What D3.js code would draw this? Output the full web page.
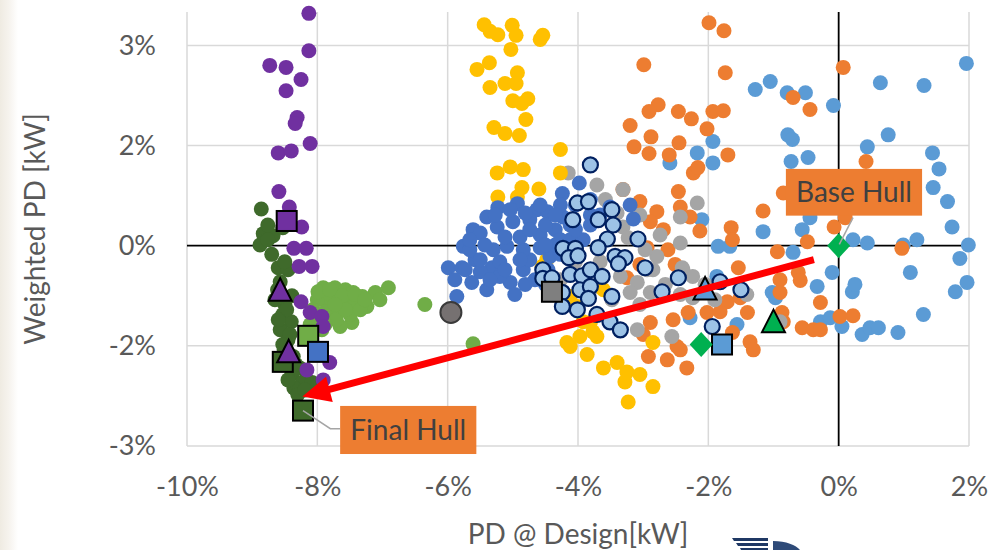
<!DOCTYPE html>
<html>
<head>
<meta charset="utf-8">
<script src="https://cdn.jsdelivr.net/npm/d3@7"></script>
<style>
  html, body { margin: 0; padding: 0; background: #ffffff; }
  svg { display: block; }
  text { font-family: Lato, "Open Sans", sans-serif; }
</style>
</head>
<body>
<svg id="chart" width="1001" height="550"></svg>
<script>
// ---------------- DATA ----------------
const xTicks = [-10, -8, -6, -4, -2, 0, 2];
const xTickLabels = ["-10%", "-8%", "-6%", "-4%", "-2%", "0%", "2%"];
const yTicks = [-3, -1.5, 0, 1.5, 3];
const yTickLabels = ["-3%", "-2%", "0%", "2%", "3%"];
const xTitle = "PD @ Design[kW]";
const yTitle = "Weighted PD [kW]";

const skyBlue = [[1.96,2.73],[0.64,2.44],[1.31,2.40],[-1.28,2.34],[-1.05,2.46],[-0.79,2.29],[-0.51,2.29],[-0.08,2.10],
  [0.76,1.66],[-0.78,1.66],[-0.71,1.59],[0.44,1.48],[1.44,1.39],[1.54,1.15],[-0.73,1.26],[-0.47,1.32],[1.45,0.87],
  [1.67,0.66],[1.74,0.28],[1.99,0.01],[1.86,-0.19],[0.22,0.09],[0.44,0.04],[0.99,0.01],[1.20,0.09],[-1.93,1.56],
  [-2.17,1.39],[-2.59,1.24],[-1.93,1.24],[-1.16,0.21],[-1.85,-0.01],[-1.67,-0.01],[-0.70,-0.10],[-0.56,0.24],
  [-0.44,0.42],[-0.10,-0.40],[1.10,-0.40],[-2.10,0.39],[0.21,-0.69],[0.25,-0.58],[1.79,-0.69],[1.97,-0.55],
  [1.30,-1.03],[-0.33,-0.61],[-0.28,-1.14],[-0.13,-1.08],[0.05,-1.21],[0.36,-1.33],[0.48,-1.23],[0.61,-1.23],
  [0.91,-1.30],[-1.02,-0.70],[-0.97,-0.78],[-1.56,-1.18],[-2.28,-1.08],[-1.87,-0.46]];

const orange = [[-1.99,3.34],[-1.76,3.22],[-1.74,2.59],[0.07,2.67],[-0.70,2.22],[-0.44,2.04],[-2.99,2.71],[-2.77,2.11],
  [-2.91,2.01],[-2.46,2.01],[-2.26,1.90],[-1.93,2.01],[-1.77,2.02],[-2.02,1.75],[-3.20,1.80],[-2.88,1.63],[-2.45,1.54],
  [-3.14,1.48],[-2.91,1.38],[-2.60,1.36],[-1.70,1.36],[-2.23,1.09],[-2.16,1.17],[0.42,1.26],[-2.46,0.81],[-0.85,0.79],
  [-1.16,0.52],[-2.43,0.58],[-2.28,0.43],[-3.31,0.84],[-3.05,0.66],[-2.79,0.51],[-2.89,0.36],[-2.69,0.24],[-2.13,0.22],
  [-1.65,0.27],[-1.63,0.09],[-0.07,0.28],[0.10,0.42],[-0.48,0.06],[-0.94,-0.09],[0.97,-0.04],[-2.94,-0.03],[-2.62,-0.06],
  [-1.54,-0.33],[-0.62,-0.40],[-3.05,-0.28],[-2.51,-0.28],[-3.25,-0.48],[-0.90,-0.51],[-0.59,-0.52],[-0.90,-0.70],
  [-0.28,-0.85],[-1.71,-0.84],[-1.51,-0.78],[-2.31,-1.00],[-2.02,-1.00],[-1.82,-0.99],[-1.40,-1.00],[-2.54,-1.11],
  [-2.89,-1.15],[-3.00,-1.33],[-2.48,-1.51],[-1.36,-1.44],[-1.31,-1.56],[-0.56,-1.23],[-0.39,-1.26],[-0.28,-1.26],
  [0.02,-1.06],[0.22,-1.05],[-0.87,-1.00],[-0.85,-1.14],[-1.63,-1.30],[-2.43,-1.56],[-2.63,-1.71],[-2.33,-1.83],[-2.92,-1.66]];

const gray = [[-4.15,1.09],[-3.71,0.91],[-3.31,0.84],[-3.40,0.49],[-3.31,0.28],[-3.23,0.12],[-2.43,0.43],[-2.17,0.64],
  [-2.74,0.16],[-2.79,-0.16],[-2.43,0.04],[-2.94,-0.36],[-3.09,-0.55],[-3.20,-0.70],[-2.89,-0.70],[-2.39,-0.36],
  [-2.24,-0.46],[-2.56,-1.36],[-3.09,-1.26],[-3.35,-0.46],[-2.85,-0.36],[-2.40,-0.33],[-2.24,-0.78],[-2.43,-0.73],
  [-1.41,-0.73],[-0.90,-1.14],[-3.54,0.09],[-3.66,-0.24],[-3.48,-0.81],[-3.05,-0.88],[-2.66,-0.58],[-2.05,-0.58],
  [-1.90,-0.81],[-3.81,-0.66],[-2.97,-0.06],[-3.58,0.69],[-3.05,0.46],[-4.27,-0.51],[-4.04,-0.24]];

const yellow = [[-5.44,3.31],[-5.35,3.21],[-5.23,3.16],[-5.01,3.30],[-4.95,3.15],[-4.54,3.15],[-4.58,3.09],[-5.03,2.94],
  [-5.36,2.74],[-5.55,2.64],[-4.93,2.59],[-5.35,2.37],[-5.12,2.43],[-4.95,2.43],[-5.00,2.17],[-4.86,2.13],[-4.77,2.20],
  [-4.80,1.89],[-5.29,1.77],[-5.12,1.68],[-4.90,1.65],[-4.27,1.44],[-5.24,1.09],[-5.04,1.18],[-4.84,1.14],[-4.86,0.87],
  [-4.60,0.85],[-4.27,1.09],[-5.23,0.73],[-4.93,0.73],[-4.48,-0.21],[-4.55,-0.31],[-4.12,-0.76],[-4.01,-0.91],
  [-3.61,-0.66],[-3.81,-1.15],[-3.97,-1.36],[-4.17,-1.45],[-3.71,-1.36],[-4.12,-1.51],[-3.86,-1.63],[-3.77,-1.29],
  [-3.92,-1.14],[-3.61,-1.83],[-3.40,-1.75],[-3.25,-1.89],[-3.05,-1.93],[-3.28,-2.04],[-2.85,-2.11],[-3.23,-2.34],[-2.85,-1.45]];

const blue = [[-3.98,0.94],[-4.24,0.78],[-3.51,0.58],[-3.20,0.61],[-3.15,0.40],[-5.23,0.57],[-4.93,0.63],[-4.63,0.54],
  [-4.47,0.51],[-5.40,0.43],[-5.61,0.24],[-5.76,-0.01],[-5.99,-0.33],[-5.78,-0.33],[-5.63,-0.55],[-5.40,-0.66],
  [-5.04,-0.55],[-5.86,-0.76],[-5.32,-0.33],[-4.84,-0.36],[-4.74,-0.21],[-4.43,-0.16],[-3.92,0.09],[-5.50,0.19],
  [-5.24,0.28],[-5.00,0.36],[-4.74,0.39],[-4.23,0.43],[-5.09,-0.01],[-4.84,-0.06],[-5.30,-0.06],[-4.58,0.16],
  [-4.35,0.24],[-4.12,0.31],[-5.12,0.13],[-4.89,0.13],[-5.43,0.01],[-5.58,-0.21],[-5.20,-0.24],[-4.58,-0.03],
  [-4.35,0.01],[-4.12,0.09],[-3.81,0.31],[-3.66,0.46],[-4.46,-0.36],[-4.66,-0.51],[-5.20,-0.46],[-4.97,-0.73],
  [-5.50,-0.39],[-4.50,0.31],[-4.81,0.49],[-4.27,0.61],[-3.81,0.69],[-4.04,0.61],[-5.66,-0.06],[-5.27,0.46],[-5.89,-0.51],
  [-5.04,0.54],[-4.74,0.24],[-4.50,0.01],[-4.27,0.09],[-4.89,-0.21],[-5.12,-0.36],[-5.35,-0.51],[-5.73,-0.36],
  [-5.50,-0.21],[-4.27,-0.13],[-4.04,0.24],[-4.35,0.46],[-3.81,0.46],[-4.58,0.61],[-5.66,0.09],[-4.81,-0.58],[-4.50,-0.58]];

const lightGreen = [[-7.91,-0.63],[-7.73,-0.63],[-7.57,-0.66],[-7.45,-0.70],[-7.31,-0.76],[-7.11,-0.70],[-6.91,-0.63],
  [-7.24,-0.91],[-7.47,-1.15],[-7.65,-0.96],[-7.85,-0.85],[-8.00,-0.81],[-8.07,-0.96],[-7.81,-1.06],[-7.65,-1.21],
  [-7.96,-1.11],[-7.81,-0.73],[-7.57,-0.81],[-7.42,-0.88],[-7.88,-0.99],[-7.99,-0.69],[-7.50,-1.03],[-7.71,-1.11],
  [-7.62,-0.75],[-7.34,-0.96],[-7.93,-1.26],[-8.11,-1.18],[-6.35,-0.88],[-5.61,-1.47],
  [-7.81,-0.66],[-7.57,-0.96],[-7.42,-0.73],[-7.73,-0.88],[-7.88,-1.18],[-8.03,-1.03],[-7.27,-0.81],[-7.04,-0.81]];

const darkGreen = [[-8.86,0.55],[-8.83,0.18],[-8.68,0.15],[-8.88,0.01],[-8.53,0.27],[-8.76,0.31],[-8.60,-0.33],
  [-8.45,-0.36],[-8.57,-0.54],[-8.39,-0.75],[-8.50,-0.88],[-8.53,-1.03],[-8.40,-1.14],[-8.57,-1.26],[-8.45,-1.41],
  [-8.51,-1.56],[-8.37,-1.66],[-8.27,-1.83],[-8.39,-1.93],[-8.22,-2.04],[-8.36,-2.13],[-8.08,-2.05],[-8.30,-2.23],
  [-8.61,-0.66],[-8.50,-0.24],
  [-8.65,-0.81],[-8.47,-0.96],[-8.60,-1.11],[-8.42,-1.33],[-8.53,-1.48],[-8.33,-1.78],[-8.45,-2.01],[-8.19,-2.16],
  [-8.76,0.09],[-8.70,-0.13]];

const purple = [[-8.13,3.48],[-8.13,2.92],[-8.73,2.70],[-8.48,2.67],[-8.25,2.49],[-8.48,2.32],[-8.31,1.92],[-8.34,1.83],
  [-8.11,1.53],[-8.60,1.39],[-8.40,1.42],[-8.59,0.81],[-8.43,0.58],[-8.24,0.28],[-8.36,-0.04],[-8.17,-0.04],
  [-8.28,-0.31],[-8.08,-0.31],[-8.25,-0.84],[-8.11,-1.00],[-7.93,-1.06],[-7.91,-1.21],[-7.81,-1.75],[-7.91,-2.01],[-8.16,-1.86]];

const ringed = [[-3.81,1.21],[-4.01,0.64],[-3.84,0.66],[-4.08,0.39],[-3.69,0.39],[-3.48,0.54],[-3.46,0.31],[-3.55,0.10],
  [-3.08,0.10],[-3.69,-0.03],[-4.23,-0.04],[-4.04,-0.04],[-4.14,-0.18],[-4.00,-0.15],[-3.43,-0.16],[-3.28,-0.18],
  [-3.38,-0.27],[-2.97,-0.33],[-2.46,-0.48],[-4.54,-0.36],[-4.54,-0.49],[-4.40,-0.48],[-4.12,-0.43],[-3.94,-0.45],
  [-3.81,-0.36],[-3.63,-0.46],[-4.24,-0.70],[-3.97,-0.66],[-3.81,-0.61],[-3.84,-0.79],[-3.48,-0.76],[-2.71,-0.69],
  [-4.24,-0.91],[-4.01,-0.96],[-3.71,-1.03],[-3.51,-1.14],[-3.35,-1.26],[-1.82,-0.54],[-1.50,-0.66],[-1.94,-1.21]];

// highlighted hull designs
const hullSquares = [[-8.47,0.37],[-8.53,-1.74],[-8.22,-2.47],[-8.14,-1.35],[-7.99,-1.59],[-4.40,-0.69],[-1.79,-1.48]];
const hullTriangles = [[-8.57,-0.66],[-8.44,-1.58],[-2.05,-0.64],[-1.00,-1.13]];
const hullDiamonds = [[-2.11,-1.48],[0.0,0.0]];
const hullCircles = [[-5.95,-1.00]];

// trend arrow and callouts
const arrowFrom = [-0.38, -0.21];
const arrowTo = [-8.23, -2.26];
const calloutLabels = ["Base Hull", "Final Hull"];
const calloutTargets = [[0.0, 0.0], [-8.22, -2.47]];

// ---------------- DRAWING ----------------
const W = 1001, H = 550;
const svg = d3.select("#chart");
const x = d3.scaleLinear().domain([-10, 2]).range([187, 969]);
const y = d3.scaleLinear().domain([-3, 3.5]).range([446, 12]);

const defs = svg.append("defs");
const grad = defs.append("linearGradient").attr("id", "edge").attr("x1", 0).attr("x2", 1);
grad.append("stop").attr("offset", 0).attr("stop-color", "#efebe2");
grad.append("stop").attr("offset", 0.5).attr("stop-color", "#f6f3ee");
grad.append("stop").attr("offset", 1).attr("stop-color", "#ffffff");

svg.append("rect").attr("width", W).attr("height", H).attr("fill", "#ffffff");
svg.append("rect").attr("width", 18).attr("height", H).attr("fill", "url(#edge)");

// gridlines
const grid = svg.append("g");
grid.selectAll("line.v").data(xTicks.filter(d => d !== 0)).join("line")
  .attr("x1", d => x(d)).attr("x2", d => x(d))
  .attr("y1", y(3.5)).attr("y2", y(-3))
  .attr("stroke", "#d9d9d9").attr("stroke-width", 1.5);
grid.selectAll("line.h").data(yTicks.filter(d => d !== 0)).join("line")
  .attr("x1", x(-10)).attr("x2", x(2))
  .attr("y1", d => y(d)).attr("y2", d => y(d))
  .attr("stroke", "#d9d9d9").attr("stroke-width", 1.5);
// zero lines
grid.append("line").attr("x1", x(-10)).attr("x2", x(2)).attr("y1", y(0)).attr("y2", y(0))
  .attr("stroke", "#000").attr("stroke-width", 1.8);
grid.append("line").attr("x1", x(0)).attr("x2", x(0)).attr("y1", y(3.5)).attr("y2", y(-3))
  .attr("stroke", "#000").attr("stroke-width", 1.8);

// axes
const xAxis = d3.axisBottom(x).tickValues(xTicks)
  .tickFormat((d, i) => xTickLabels[i]).tickSize(0).tickPadding(31);
const gx = svg.append("g").attr("transform", `translate(0,${y(-3)})`).call(xAxis);
gx.select(".domain").remove();
gx.selectAll("text").attr("fill", "#595959").style("font-size", "27px").style("font-family", "Lato");

const yAxis = d3.axisLeft(y).tickValues(yTicks)
  .tickFormat((d, i) => yTickLabels[i]).tickSize(0).tickPadding(31);
const gy = svg.append("g").attr("transform", `translate(${x(-10)},0)`).call(yAxis);
gy.select(".domain").remove();
gy.selectAll("text").attr("fill", "#595959").style("font-size", "27px").style("font-family", "Lato");

// axis titles
svg.append("text").attr("x", (x(-10) + x(2)) / 2).attr("y", 544)
  .attr("text-anchor", "middle").attr("fill", "#595959")
  .style("font-size", "28px").text(xTitle);
svg.append("text").attr("transform", `translate(45,${(y(3.5) + y(-3)) / 2}) rotate(-90)`)
  .attr("text-anchor", "middle").attr("fill", "#595959")
  .style("font-size", "28px").text(yTitle);

// scatter series
const R = 7.5;
function dots(data, fill, stroke, sw) {
  svg.append("g").selectAll("circle").data(data).join("circle")
    .attr("cx", d => x(d[0])).attr("cy", d => y(d[1])).attr("r", R)
    .attr("fill", fill)
    .attr("stroke", stroke || "none").attr("stroke-width", sw || 0);
}
dots(skyBlue, "#5b9bd5");
dots(orange, "#ed7d31");
dots(gray, "#a5a5a5");
dots(yellow, "#ffc000");
dots(blue, "#4472c4");
dots(lightGreen, "#70ad47");
dots(darkGreen, "#3f6a2b");
dots(purple, "#7030a0");
dots(ringed, "#9dc3e6", "#002060", 2.2);

// highlighted markers
const squareFills = ["#7030a0", "#3f6a2b", "#3f6a2b", "#70ad47", "#4472c4", "#7f7f7f", "#5b9bd5"];
const triangleFills = ["#7030a0", "#7030a0", "#5b9bd5", "#00b050"];
const diamondFills = ["#00b050", "#00b050"];
const SQ = 20;
svg.append("g").selectAll("rect").data(hullSquares).join("rect")
  .attr("x", d => x(d[0]) - SQ / 2).attr("y", d => y(d[1]) - SQ / 2)
  .attr("width", SQ).attr("height", SQ)
  .attr("fill", (d, i) => squareFills[i]).attr("stroke", "#000").attr("stroke-width", 2);
svg.append("g").selectAll("path").data(hullTriangles).join("path")
  .attr("d", d => {
    const cx = x(d[0]), cy = y(d[1]);
    return `M${cx},${cy - 11.5}L${cx + 11.5},${cy + 11}L${cx - 11.5},${cy + 11}Z`;
  })
  .attr("fill", (d, i) => triangleFills[i]).attr("stroke", "#000").attr("stroke-width", 2)
  .attr("stroke-linejoin", "miter");
svg.append("g").selectAll("path").data(hullDiamonds).join("path")
  .attr("d", d => {
    const cx = x(d[0]), cy = y(d[1]);
    return `M${cx},${cy - 12.5}L${cx + 11.5},${cy}L${cx},${cy + 12.5}L${cx - 11.5},${cy}Z`;
  })
  .attr("fill", (d, i) => diamondFills[i]);
svg.append("g").selectAll("circle").data(hullCircles).join("circle")
  .attr("cx", d => x(d[0])).attr("cy", d => y(d[1])).attr("r", 10.5)
  .attr("fill", "#767171").attr("stroke", "#3a3a3a").attr("stroke-width", 2);

// arrow
{
  const x0 = x(arrowFrom[0]), y0 = y(arrowFrom[1]);
  const x1 = x(arrowTo[0]), y1 = y(arrowTo[1]);
  const ang = Math.atan2(y1 - y0, x1 - x0);
  const L = 28, HW = 13;
  const bx = x1 - L * Math.cos(ang), by = y1 - L * Math.sin(ang);
  svg.append("line").attr("x1", x0).attr("y1", y0).attr("x2", bx + 2 * Math.cos(ang)).attr("y2", by + 2 * Math.sin(ang))
    .attr("stroke", "#ff0000").attr("stroke-width", 7);
  const px = -Math.sin(ang), py = Math.cos(ang);
  svg.append("path")
    .attr("d", `M${x1},${y1}L${bx + HW * px},${by + HW * py}L${bx - HW * px},${by - HW * py}Z`)
    .attr("fill", "#ff0000");
}

// callouts
const boxes = [
  { x0: -0.81, x1: 1.28, y0: 1.15, y1: 0.45, leader: [[0.22, 0.42], [0.01, 0.02]] },
  { x0: -7.65, x1: -5.56, y0: -2.40, y1: -3.12, leader: [[-8.22, -2.47], [-7.80, -2.74], [-7.65, -2.74]] }
];
boxes.forEach((b, i) => {
  svg.append("path")
    .attr("d", d3.line().x(p => x(p[0])).y(p => y(p[1]))(b.leader))
    .attr("fill", "none").attr("stroke", "#a5a5a5").attr("stroke-width", 1.5);
  svg.append("rect").attr("x", x(b.x0)).attr("y", y(b.y0))
    .attr("width", x(b.x1) - x(b.x0)).attr("height", y(b.y1) - y(b.y0))
    .attr("fill", "#ed7d31");
  svg.append("text").attr("x", (x(b.x0) + x(b.x1)) / 2).attr("y", (y(b.y0) + y(b.y1)) / 2)
    .attr("dy", "0.36em").attr("text-anchor", "middle").attr("fill", "#404040")
    .style("font-size", "28px").text(calloutLabels[i]);
});

// partial logo at bottom edge
const logo = svg.append("g").attr("fill", "#1f3864");
logo.append("path").attr("d", "M732,538 L768,538 L768,541 L734,541 Z");
logo.append("path").attr("d", "M736,543 L768,543 L768,546 L738,546 Z");
logo.append("path").attr("d", "M740,548 L768,548 L768,550 L741,550 Z");
logo.append("path").attr("d", "M773,541 C786,541 796,545 800,550 L773,550 Z").attr("fill", "#2e4a78");
</script>
</body>
</html>
